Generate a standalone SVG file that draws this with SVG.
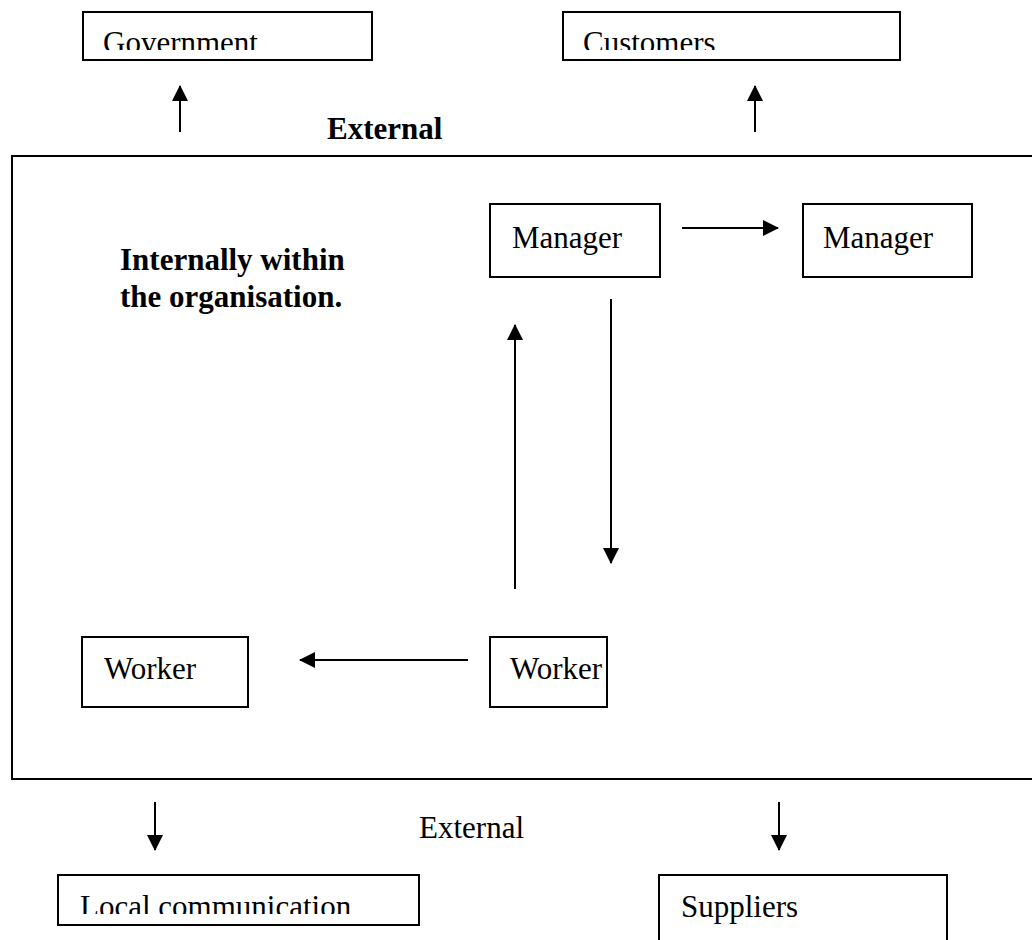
<svg xmlns="http://www.w3.org/2000/svg" width="1032" height="940" viewBox="0 0 1032 940">
<style>
.box{fill:#fff;stroke:#000;stroke-width:2}
.t{font-family:"Liberation Serif","Times New Roman",serif;font-size:31px;fill:#000}
.b{font-weight:bold}
.c{stroke:#000;stroke-width:2;fill:none}
</style>
<defs>
<marker id="ah" viewBox="0 0 16 18" refX="15" refY="9" markerWidth="16" markerHeight="18" markerUnits="userSpaceOnUse" orient="auto">
<path d="M0,1 L16,9 L0,17 Z" fill="#000"/>
</marker>
<clipPath id="cg"><rect x="80" y="10" width="300" height="40"/></clipPath>
<clipPath id="cc"><rect x="560" y="10" width="345" height="40"/></clipPath>
<clipPath id="cl"><rect x="55" y="870" width="370" height="44"/></clipPath>
</defs>
<rect width="1032" height="940" fill="#fff"/>
<g id="org-boundary">
<path class="c" d="M1040,156 H12 V779 H1040"/>
</g>
<g id="government">
<rect class="box" x="83" y="12" width="289" height="48"/>
<text class="t" x="103" y="53" clip-path="url(#cg)">Government</text>
</g>
<g id="customers">
<rect class="box" x="563" y="12" width="337" height="48"/>
<text class="t" x="583" y="53" clip-path="url(#cc)">Customers</text>
</g>
<g id="label-external-top">
<text class="t b" x="327" y="139">External</text>
</g>
<g id="label-internal">
<text class="t b" x="120" y="270">Internally within</text>
<text class="t b" x="120" y="307">the organisation.</text>
</g>
<g id="manager1">
<rect class="box" x="490" y="204" width="170" height="73"/>
<text class="t" x="512" y="248">Manager</text>
</g>
<g id="manager2">
<rect class="box" x="803" y="204" width="169" height="73"/>
<text class="t" x="823" y="248">Manager</text>
</g>
<g id="worker1">
<rect class="box" x="82" y="637" width="166" height="70"/>
<text class="t" x="104" y="679">Worker</text>
</g>
<g id="worker2">
<rect class="box" x="490" y="637" width="117" height="70"/>
<text class="t" x="510" y="679">Worker</text>
</g>
<g id="label-external-bottom">
<text class="t" x="419" y="838">External</text>
</g>
<g id="local-communication">
<rect class="box" x="58" y="875" width="361" height="50"/>
<text class="t" x="80" y="917" clip-path="url(#cl)">Local communication</text>
</g>
<g id="suppliers">
<rect class="box" x="659" y="875" width="288" height="80"/>
<text class="t" x="681" y="917">Suppliers</text>
</g>
<g id="connectors">
<line class="c" x1="180" y1="132" x2="180" y2="86" marker-end="url(#ah)"/>
<line class="c" x1="755" y1="132" x2="755" y2="86" marker-end="url(#ah)"/>
<line class="c" x1="682" y1="228" x2="778" y2="228" marker-end="url(#ah)"/>
<line class="c" x1="515" y1="589" x2="515" y2="325" marker-end="url(#ah)"/>
<line class="c" x1="611" y1="299" x2="611" y2="563" marker-end="url(#ah)"/>
<line class="c" x1="468" y1="660" x2="300" y2="660" marker-end="url(#ah)"/>
<line class="c" x1="155" y1="802" x2="155" y2="850" marker-end="url(#ah)"/>
<line class="c" x1="779" y1="802" x2="779" y2="850" marker-end="url(#ah)"/>
</g>
</svg>
